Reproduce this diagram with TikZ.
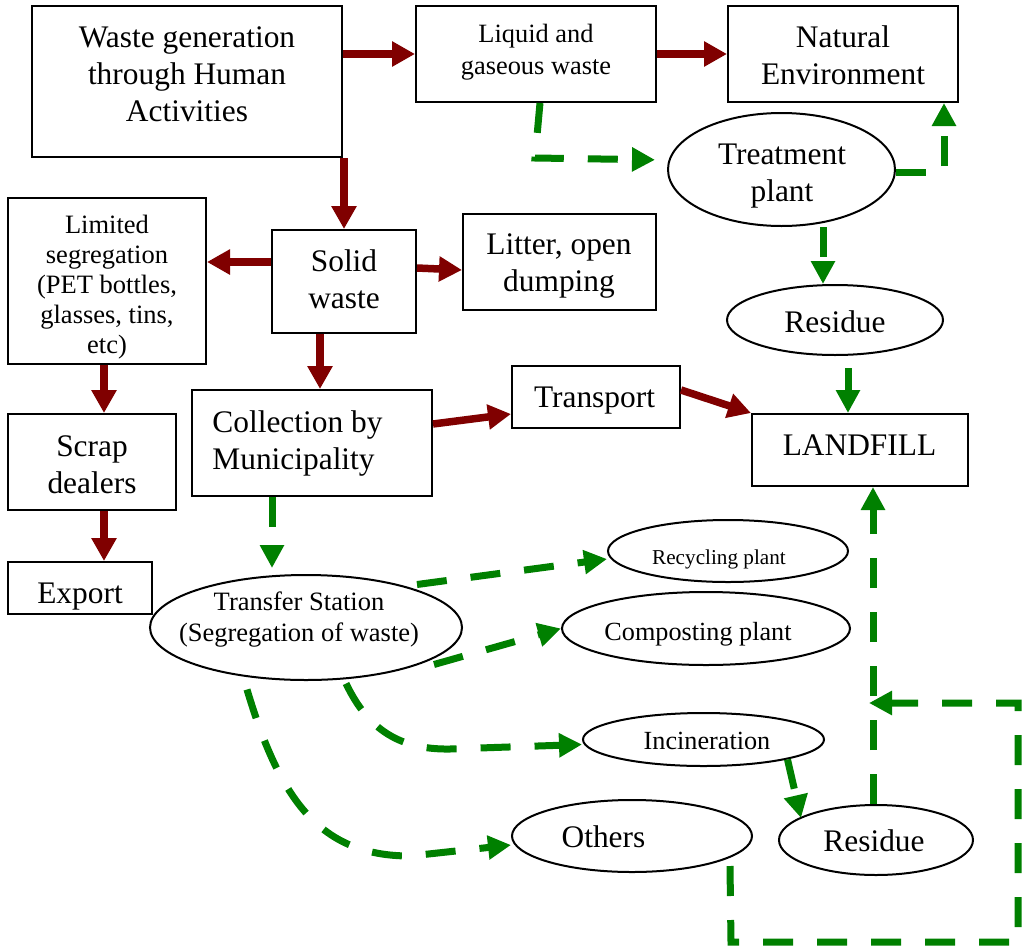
\documentclass[tikz,border=0pt]{standalone}
\usepackage{fontspec}
\setmainfont{Liberation Serif}
\usetikzlibrary{arrows.meta,shapes.geometric,calc}
\definecolor{dred}{RGB}{128,0,0}
\definecolor{dgreen}{RGB}{0,128,0}
\begin{document}
\begin{tikzpicture}[x=0.5pt,y=-0.5pt,
  box/.style={draw,line width=1pt,rectangle,inner sep=0pt},
  oval/.style={draw,line width=1pt,ellipse,inner sep=0pt},
  txt/.style={inner sep=0pt,align=center},
  big/.style={font=\fontsize{15.7}{18.5}\selectfont},
  mid/.style={font=\fontsize{13.2}{16}\selectfont},
  sml/.style={font=\fontsize{13.25}{15}\selectfont},
  redarr/.style={color=dred,line width=3.75pt,-{Triangle[length=11.5pt,width=12pt]}},
  grnarr/.style={color=dgreen,line width=3.5pt,dash pattern=on 15pt off 12pt,-{Triangle[length=11.5pt,width=11.5pt]}}
]
\useasboundingbox (0,0) rectangle (1023,948);

% boxes and ovals
\node[box,minimum width=155pt,minimum height=75.5pt] (wg) at (187,81.5) {};
\node[box,minimum width=120pt,minimum height=48pt] (lq) at (536,54) {};
\node[box,minimum width=115pt,minimum height=48pt] (ne) at (843,54) {};
\node[oval,minimum width=113.5pt,minimum height=56.5pt] (tp) at (781.5,169.5) {};
\node[box,minimum width=72pt,minimum height=51.5pt] (sw) at (344,281.5) {};
\node[box,minimum width=99pt,minimum height=83pt] (ls) at (107,281) {};
\node[box,minimum width=96.5pt,minimum height=48pt] (lt) at (559.5,262) {};
\node[oval,minimum width=108pt,minimum height=35pt] (r1) at (835,320) {};
\node[box,minimum width=84pt,minimum height=48pt] (sd) at (92,462) {};
\node[box,minimum width=120pt,minimum height=53pt] (cm) at (312,443) {};
\node[box,minimum width=84pt,minimum height=31pt] (tr) at (596,397) {};
\node[box,minimum width=108pt,minimum height=36pt] (lf) at (860,450) {};
\node[box,minimum width=72pt,minimum height=26pt] (ex) at (80,588) {};
\node[oval,minimum width=156pt,minimum height=52.5pt] (ts) at (306,627.5) {};
\node[oval,minimum width=120pt,minimum height=31pt] (rp) at (728,551) {};
\node[oval,minimum width=144pt,minimum height=36.5pt] (cp) at (706,628.5) {};
\node[oval,minimum width=120.5pt,minimum height=26.5pt] (inc) at (703.5,739.5) {};
\node[oval,minimum width=120pt,minimum height=36pt] (ot) at (632,836) {};
\node[oval,minimum width=97pt,minimum height=35pt] (r2) at (876,840) {};

% red connectors
\draw[redarr] (wg.east |- lq.west) -- (lq.west);
\draw[redarr] (lq.east) -- (ne.west);
\draw[redarr] (sw.north |- wg.south) -- (sw.north);
\draw[redarr] (sw.west |- 0,262) -- (ls.east |- 0,262);
\draw[redarr] (sw.east |- 0,268) -- (lt.west |- 0,270);
\draw[redarr] (ls.south -| 104,0) -- (sd.north -| 104,0);
\draw[redarr] (sd.south -| 104,0) -- (ex.north -| 104,0);
\draw[redarr] (sw.south -| 320,0) -- (cm.north -| 320,0);
\draw[redarr] (cm.east |- 0,424) -- (tr.west |- 0,414);
\draw[redarr] (tr.east |- 0,390) -- (lf.north west);

% green connectors
\coordinate (c1) at (535,158);
\draw[grnarr,shorten >=6pt] (lq.south -| 540,0) -- (c1) -- (tp.west |- 0,160);
\coordinate (c2) at (944,172);
\draw[grnarr] (tp.east |- c2) -- (c2) -- (ne.south -| c2);
\draw[grnarr] (tp.south -| 823,0) -- (r1.north -| 823,0);
\draw[grnarr,shorten <=6pt] (r1.south -| 848,0) -- (lf.north -| 848,0);
\draw[grnarr,shorten >=3pt] (cm.south -| 272,0) -- (ts.north -| 272,0);
\draw[grnarr] ($(ts.center)+(111,-43)$) -- ($(rp.west)+(0,8)$);
\draw[grnarr] ($(ts.center)+(128,37)$) -- (cp.west);
\draw[grnarr] ($(ts.center)+(40,56)$) .. controls (366,725) and (395,750) .. (450,749) -- ($(inc.west)+(0,5)$);
\draw[grnarr] ($(ts.center)+(-59,62)$) .. controls (280,800) and (320,856) .. (410,856) -- ($(ot.west)+(0,9)$);
\draw[grnarr] ($(inc.center)+(84,20)$) -- ($(r2.center)+(-75,-22)$);
\draw[grnarr] (r2.north -| 873,0) -- (lf.south -| 873,0);
\coordinate (mrg) at (869,703);
\draw[grnarr] ($(ot.center)+(98,30)$) -- (731,942) -- (1018,942) -- (1018,703) -- (mrg);

% texts
\node[txt,big] (wgt) at (187,74) {Waste generation\\through Human\\Activities};
\node[txt,mid] (lqt) at (536,52) {Liquid and\\gaseous waste};
\node[txt,big] (net) at (843,55.5) {Natural\\Environment};
\node[txt,big] (tpt) at (782,176) {Treatment\\plant};
\node[txt,big] (swt) at (344,279.5) {Solid\\waste};
\node[txt,sml] (lst) at (107,287) {Limited\\segregation\\(PET bottles,\\glasses, tins,\\etc)};
\node[txt,big] (ltt) at (559,266) {Litter, open\\dumping};
\node[txt,big] (r1t) at (835,322) {Residue};
\node[txt,big] (sdt) at (92,464.5) {Scrap\\dealers};
\node[txt,big,align=left,anchor=west] (cmt) at (212,443) {Collection by\\Municipality};
\node[txt,big] (trt) at (594.5,401) {Transport};
\node[txt,big] (lft) at (859.5,445) {LANDFILL};
\node[txt,big] (ext) at (80,597) {Export};
\node[txt,font=\fontsize{13.25}{15.5}\selectfont] (tst) at (299,619.5) {Transfer Station\\(Segregation of waste)};
\node[txt,font=\fontsize{10.6}{12}\selectfont] (rpt) at (719,559) {Recycling plant};
\node[txt,font=\fontsize{13.1}{15}\selectfont] (cpt) at (698,634) {Composting plant};
\node[txt,font=\fontsize{13.1}{15}\selectfont] (inct) at (707,741) {Incineration};
\node[txt,big] (ott) at (603.5,837) {Others};
\node[txt,big] (r2t) at (874,841) {Residue};
\end{tikzpicture}
\end{document}
